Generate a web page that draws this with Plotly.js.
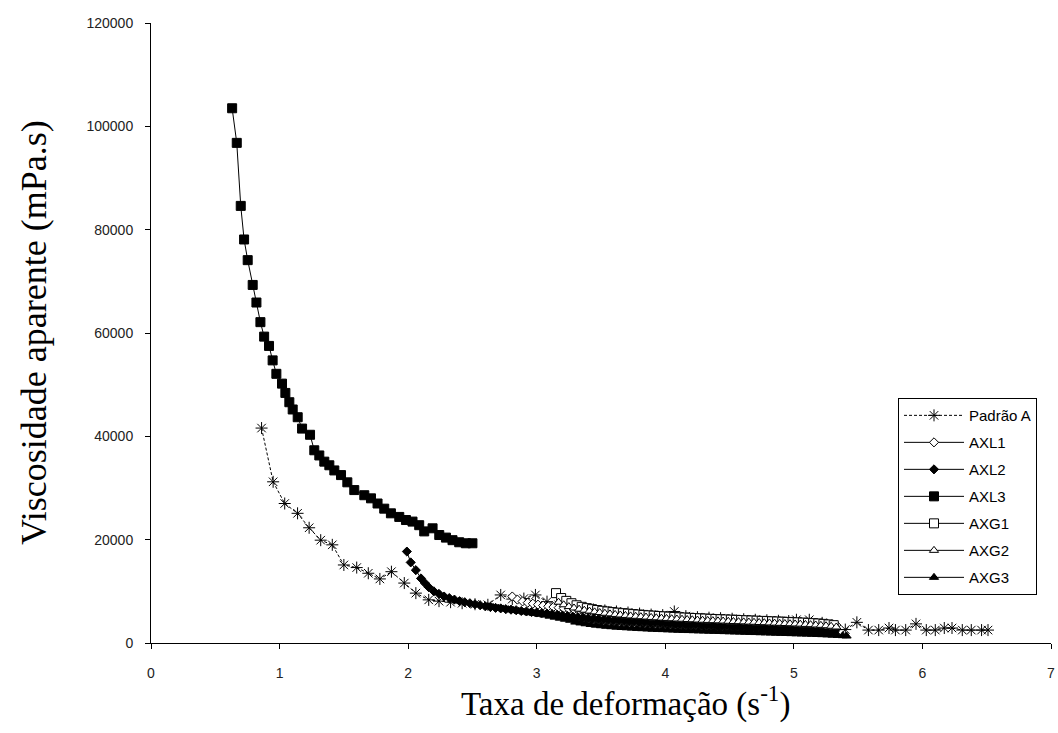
<!DOCTYPE html>
<html>
<head>
<meta charset="utf-8">
<script src="https://cdn.plot.ly/plotly-3.0.1.min.js"></script>
<style>html,body{margin:0;padding:0;background:#fff;}#chart{width:1058px;height:733px;}</style>
</head>
<body>
<div id="chart"></div>
<script>
// ---- Data ----
const seriesNames = ["Padrão A", "AXL1", "AXL2", "AXL3", "AXG1", "AXG2", "AXG3"];
const xTitle = "Taxa de deformação (s<sup>-1</sup>)";
const yTitle = "Viscosidade aparente (mPa.s)";

const padraoX = [0.86,0.95,1.04,1.14,1.23,1.32,1.41,1.50,1.60,1.69,1.78,1.87,1.97,2.06,2.16,2.24,2.33,2.42,2.52,2.62,2.72,2.81,2.90,2.99,3.08,3.17,3.26,3.35,3.44,3.53,3.62,3.71,3.80,3.89,3.98,4.07,4.16,4.25,4.34,4.43,4.52,4.61,4.70,4.79,4.88,4.96,5.02,5.12,5.22,5.32,5.40,5.49,5.58,5.66,5.74,5.79,5.87,5.95,6.03,6.10,6.17,6.23,6.31,6.38,6.46,6.51];
const padraoY = [41600,31200,27000,25100,22300,19900,19000,15100,14600,13500,12400,13800,11600,9650,8350,8100,7900,7700,7500,7400,9300,8500,8600,9300,8000,7400,7000,6700,6500,6300,6100,5900,5700,5500,5400,6100,5200,5000,4900,4800,4700,4600,4500,4400,4300,4250,4500,4500,3900,2600,2600,4000,2500,2500,2900,2500,2500,3700,2500,2500,2900,2900,2500,2500,2500,2500];

const axl1X = [2.81,2.85,2.89,2.93,2.97,3.01,3.05,3.09,3.13,3.17,3.21,3.25,3.29,3.33,3.37,3.41,3.45,3.49,3.53,3.57,3.61,3.65,3.69,3.73,3.77,3.81,3.85,3.89,3.93,3.97,4.01,4.05,4.09,4.13,4.17,4.21,4.25,4.29,4.33,4.37,4.41,4.45,4.49,4.53,4.57,4.61,4.65,4.69,4.73,4.77,4.81,4.85,4.89,4.93,4.97,5.01,5.05,5.09,5.13,5.17,5.21,5.25,5.29,5.33];
const axl1Y = [9000,8400,8050,7800,7600,7420,7250,7100,6960,6830,6700,6580,6470,6360,6260,6160,6070,5980,5900,5820,5740,5670,5600,5530,5460,5400,5340,5280,5220,5160,5110,5060,5010,4960,4910,4860,4810,4770,4730,4690,4650,4610,4570,4530,4490,4450,4410,4370,4330,4290,4250,4210,4170,4130,4090,4050,4010,3960,3910,3850,3780,3700,3600,3480];

const axl2X = [1.99,2.02,2.06,2.10,2.13,2.16,2.20,2.24,2.28,2.32,2.36,2.40,2.44,2.48,2.52,2.56,2.60,2.64,2.68,2.72,2.76,2.80,2.84,2.88,2.92,2.96,3.00,3.04,3.08,3.12,3.16,3.20,3.24,3.28,3.32,3.36,3.40,3.44,3.48,3.52,3.56,3.60,3.64,3.68,3.72,3.76,3.80,3.84,3.88,3.92,3.96,4.00,4.04,4.08,4.12,4.16,4.20,4.24,4.28,4.32,4.36,4.40,4.44,4.48,4.52,4.56,4.60,4.64,4.68,4.72,4.76,4.80,4.84,4.88,4.92,4.96,5.00,5.04,5.08,5.12,5.16,5.20,5.24,5.28,5.32];
const axl2Y = [17700,15600,14100,12500,11600,10800,10000,9500,9000,8700,8400,8100,7900,7700,7500,7300,7100,6950,6800,6700,6550,6450,6350,6200,6100,6000,5900,5800,5700,5580,5460,5340,5220,5110,5000,4900,4800,4700,4610,4530,4450,4380,4310,4240,4180,4120,4060,4000,3950,3900,3850,3800,3750,3700,3650,3600,3560,3520,3480,3440,3400,3360,3320,3280,3240,3200,3160,3120,3080,3040,3000,2960,2920,2880,2840,2800,2760,2720,2680,2640,2590,2540,2480,2420,2350];

const axl3X = [0.631,0.667,0.698,0.724,0.752,0.791,0.820,0.851,0.880,0.918,0.946,0.975,1.019,1.045,1.076,1.102,1.141,1.175,1.237,1.270,1.309,1.348,1.387,1.426,1.478,1.527,1.581,1.659,1.711,1.762,1.814,1.866,1.931,1.983,2.034,2.086,2.125,2.190,2.242,2.294,2.345,2.397,2.449,2.500];
const axl3Y = [103500,96800,84600,78100,74100,69300,65900,62100,59300,57500,54700,52100,50200,48400,46600,45200,43700,41500,40300,37300,36300,35100,34400,33400,32500,31100,29600,28600,28000,27000,26000,25100,24400,23800,23500,22800,21600,22200,20900,20400,19900,19500,19300,19300];

const axg1X = [3.15,3.19,3.23,3.27,3.31,3.35,3.39,3.43,3.47,3.51,3.55,3.59,3.63,3.67,3.71,3.75,3.79,3.83,3.87,3.91,3.95,3.99,4.03,4.07,4.11,4.15,4.19,4.23,4.27,4.31,4.35,4.39,4.43,4.47,4.51,4.55,4.59,4.63,4.67,4.71,4.75,4.79,4.83,4.87,4.91,4.95,4.99,5.03,5.07,5.11,5.15,5.19,5.23,5.27,5.31];
const axg1Y = [9650,8700,8150,7700,7300,7000,6750,6550,6380,6230,6100,5980,5870,5770,5680,5590,5510,5430,5360,5290,5220,5160,5100,5040,4980,4930,4880,4830,4780,4730,4680,4640,4600,4560,4520,4480,4440,4400,4360,4320,4280,4240,4200,4160,4120,4080,4040,4000,3950,3900,3840,3780,3700,3600,3450];

const axg2X = [3.17,3.21,3.25,3.29,3.33,3.37,3.41,3.45,3.49,3.53,3.57,3.61,3.65,3.69,3.73,3.77,3.81,3.85,3.89,3.93,3.97,4.01,4.05,4.09,4.13,4.17,4.21,4.25,4.29,4.33,4.37,4.41,4.45,4.49,4.53,4.57,4.61,4.65,4.69,4.73,4.77,4.81,4.85,4.89,4.93,4.97,5.01,5.05,5.09,5.13,5.17,5.21,5.25,5.29,5.33];
const axg2Y = [7900,7400,7050,6780,6550,6350,6180,6030,5890,5760,5640,5530,5430,5340,5250,5170,5090,5020,4950,4880,4820,4760,4700,4650,4600,4550,4500,4450,4410,4370,4330,4290,4250,4210,4170,4130,4090,4050,4010,3970,3930,3890,3850,3810,3770,3730,3690,3650,3600,3550,3490,3420,3340,3240,3100];

const axg3X = [2.62,2.66,2.70,2.74,2.78,2.82,2.86,2.90,2.94,2.98,3.02,3.06,3.10,3.14,3.18,3.22,3.26,3.30,3.34,3.38,3.42,3.46,3.50,3.54,3.58,3.62,3.66,3.70,3.74,3.78,3.82,3.86,3.90,3.94,3.98,4.02,4.06,4.10,4.14,4.18,4.22,4.26,4.30,4.34,4.38,4.42,4.46,4.50,4.54,4.58,4.62,4.66,4.70,4.74,4.78,4.82,4.86,4.90,4.94,4.98,5.02,5.06,5.10,5.14,5.18,5.22,5.26,5.30,5.34,5.38,5.41];
const axg3Y = [7050,6900,6750,6600,6450,6300,6150,6000,5850,5700,5550,5400,5200,5000,4800,4600,4400,4050,3880,3720,3580,3450,3340,3240,3150,3070,3000,2940,2880,2820,2770,2720,2670,2630,2590,2550,2510,2470,2440,2410,2380,2350,2320,2290,2260,2230,2200,2170,2140,2110,2080,2050,2020,1990,1960,1930,1900,1870,1840,1810,1780,1750,1720,1690,1650,1610,1570,1520,1470,1420,1350];

const xTickVals = [0,1,2,3,4,5,6,7];
const yTickVals = [0,20000,40000,60000,80000,100000,120000];

// ---- Styles ----
const BLK = "#000000";

function tr(name, x, y, symbol, size, fill, dash) {
  return {
    type: "scatter", mode: "lines+markers", name: name, x: x, y: y,
    legendgroup: name,
    line: {color: BLK, width: 1, dash: dash || "solid"},
    marker: {symbol: symbol, size: size, color: fill, line: {color: BLK, width: 1}},
    hoverinfo: "skip"
  };
}

const data = [
  tr(seriesNames[0], padraoX, padraoY, "asterisk-open", 10, BLK, "3px,2px"),
  tr(seriesNames[1], axl1X, axl1Y, "diamond", 7, "#ffffff"),
  tr(seriesNames[2], axl2X, axl2Y, "diamond", 7, BLK),
  tr(seriesNames[3], axl3X, axl3Y, "square", 9, BLK),
  tr(seriesNames[4], axg1X, axg1Y, "square", 9, "#ffffff"),
  tr(seriesNames[5], axg2X, axg2Y, "triangle-up", 8, "#ffffff"),
  tr(seriesNames[6], axg3X, axg3Y, "triangle-up", 8, BLK)
];

const tickFont = {family: "Liberation Sans, Arial, sans-serif", size: 14, color: "#222"};
const titleFontX = {family: "Liberation Serif, Times New Roman, serif", size: 33, color: BLK};
const titleFontY = {family: "Liberation Serif, Times New Roman, serif", size: 36, color: BLK};

const layout = {
  width: 1058, height: 733,
  margin: {l: 151, r: 7, t: 23, b: 90, pad: 0},
  paper_bgcolor: "#ffffff", plot_bgcolor: "#ffffff",
  showlegend: true,
  xaxis: {
    range: [0, 7], tickmode: "array", tickvals: xTickVals,
    showgrid: false, zeroline: false, showline: true, linecolor: BLK, linewidth: 1,
    ticks: "outside", ticklen: 5, tickcolor: BLK, tickfont: tickFont,
    ticklabelstandoff: 12
  },
  yaxis: {
    range: [0, 120000], tickmode: "array", tickvals: yTickVals,
    ticktext: yTickVals.map(String),
    showgrid: false, zeroline: false, showline: true, linecolor: BLK, linewidth: 1,
    ticks: "outside", ticklen: 5, tickcolor: BLK, tickfont: tickFont,
    ticklabelstandoff: 9
  },
  annotations: [
    {text: xTitle, xref: "paper", yref: "paper", x: 0.527, y: -0.094,
     xanchor: "center", yanchor: "middle", showarrow: false, font: titleFontX},
    {text: yTitle, xref: "paper", yref: "paper", x: -0.13, y: 0.50, textangle: -90,
     xanchor: "center", yanchor: "middle", showarrow: false, font: titleFontY}
  ],
  legend: {
    x: 0.83, y: 0.395, xanchor: "left", yanchor: "top",
    bgcolor: "#ffffff", bordercolor: BLK, borderwidth: 1,
    font: {family: "Liberation Sans, Arial, sans-serif", size: 15, color: BLK},
    traceorder: "grouped", tracegroupgap: 4.5, itemwidth: 60
  }
};

Plotly.newPlot("chart", data, layout, {displayModeBar: false, staticPlot: true});
</script>
</body>
</html>
